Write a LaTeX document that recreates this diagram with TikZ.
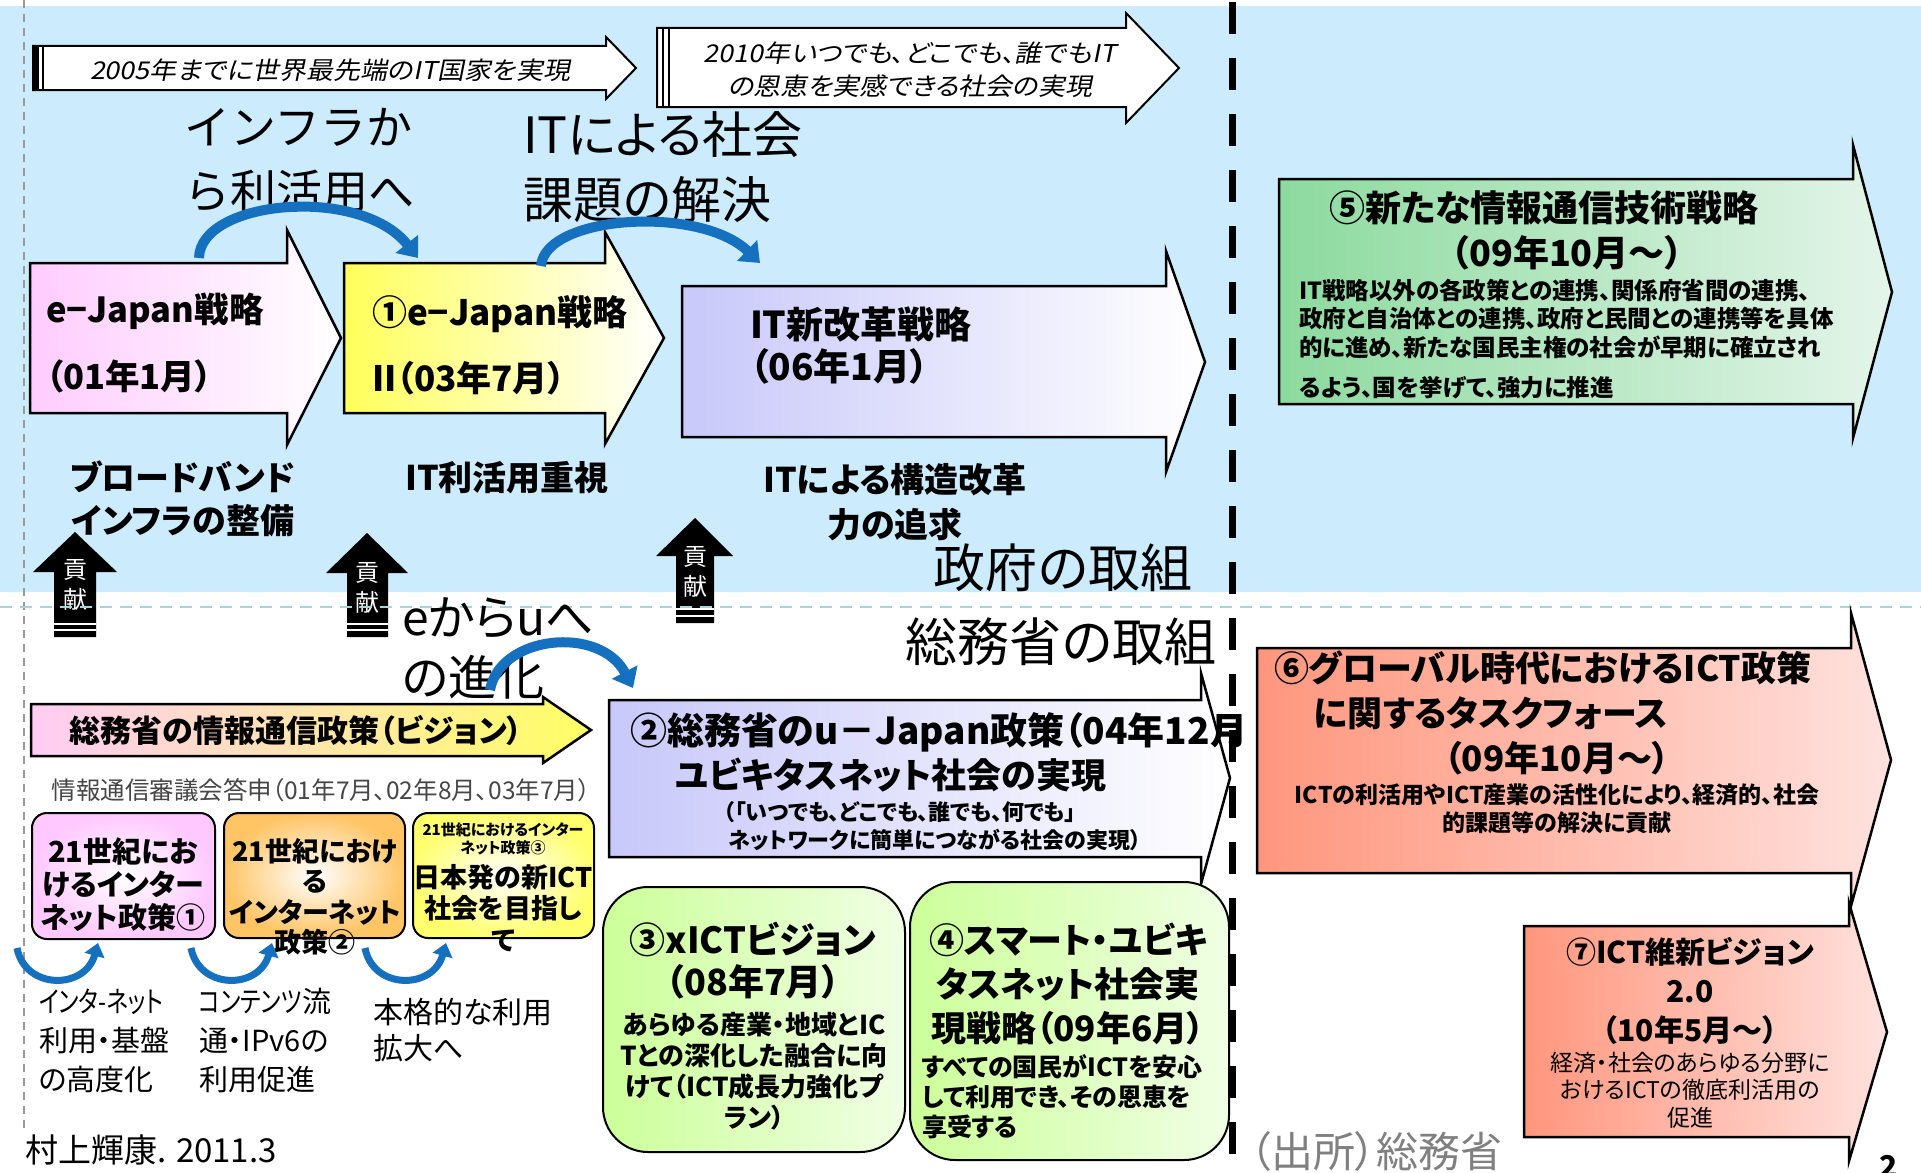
\documentclass[tikz,border=0pt]{standalone}
\usepackage{fontspec}
\setmainfont{Noto Sans CJK JP}[RawFeature=+palt]
\newfontfamily\jpit{Noto Sans CJK JP}[FakeSlant=0.2,FakeStretch=1.1,RawFeature=+palt]
\newfontfamily\jpfw{Noto Sans CJK JP}
\newfontfamily\jpcond{Noto Sans CJK JP}[FakeStretch=0.78,RawFeature=+palt]
\usetikzlibrary{arrows.meta}
\definecolor{bgblue}{RGB}{204,236,253}
\definecolor{dashteal}{RGB}{165,214,216}
\definecolor{arcblue}{RGB}{22,112,192}
\definecolor{pinkL}{RGB}{255,204,255}
\definecolor{yelL}{RGB}{255,255,90}
\definecolor{lavL}{RGB}{200,200,250}
\definecolor{grnL}{RGB}{140,218,158}
\definecolor{grnR}{RGB}{228,245,234}
\definecolor{salL}{RGB}{255,150,125}
\definecolor{salR}{RGB}{255,226,222}
\definecolor{limeL}{RGB}{204,255,153}
\definecolor{limeR}{RGB}{240,255,228}
\definecolor{orgO}{RGB}{255,196,100}
\definecolor{yelO}{RGB}{255,255,110}
\definecolor{pinkO}{RGB}{255,200,255}
\definecolor{visL}{RGB}{255,204,245}
\definecolor{visR}{RGB}{255,255,100}
\definecolor{grayT}{RGB}{128,128,128}
\definecolor{darkT}{RGB}{70,70,70}
\newcommand{\fsz}[2]{\fontsize{#1}{#2}\selectfont}
\tikzset{
  outl/.style={draw=black,line width=2.5pt,line join=miter},
  rbox/.style={draw=black,line width=2pt},
  blarc/.style={draw=arcblue,line width=10pt,-{Triangle[width=28pt,length=18pt]}},
  smarc/.style={draw=arcblue,line width=7pt,-{Triangle[width=20pt,length=13pt]}},
  kouken/.style={fill=black},
  kstripe/.style={draw=white,line width=1.5pt},
}
\begin{document}
\begin{tikzpicture}[x=1pt,y=-1pt,every node/.style={inner sep=0pt,outer sep=0pt}]
\useasboundingbox (0,0) rectangle (1921,1172);
\fill[white] (0,0) rectangle (1921,1172);
\fill[bgblue] (0,6) rectangle (1921,592);
\draw[grayT!80,line width=1.5pt,dash pattern=on 8pt off 6pt] (24,0) -- (24,1128);

% contribution arrows
\fill[kouken] (54,637) -- (54,572) -- (33,572) -- (75,532) -- (117,572) -- (96,572) -- (96,637) -- cycle;
\fill[kouken] (347,637) -- (347,573) -- (326,573) -- (367,533) -- (408,573) -- (388,573) -- (388,637) -- cycle;
\fill[kouken] (676,623) -- (676,556) -- (656,556) -- (695,518) -- (733,556) -- (714,556) -- (714,623) -- cycle;
\draw[kstripe] (54,624) -- (96,624); \draw[kstripe] (54,630) -- (96,630);
\draw[kstripe] (347,624) -- (388,624); \draw[kstripe] (347,630) -- (388,630);
\draw[kstripe] (676,609) -- (714,609); \draw[kstripe] (676,616) -- (714,616);
\node[font=\fsz{24}{30},text=white,align=center] (k1) at (75,585) {貢\\献};
\node[font=\fsz{24}{30},text=white,align=center] (k2) at (367.5,588) {貢\\献};
\node[font=\fsz{24}{30},text=white,align=center] (k3) at (695,572) {貢\\献};

\draw[dashteal,line width=2pt,dash pattern=on 12pt off 8pt] (0,607) -- (1921,607);

% top arrows
\draw[outl,fill=white,line width=2pt] (33,46) -- (606,46) -- (606,37) -- (636,68) -- (606,99) -- (606,90) -- (33,90) -- cycle;
\fill[black] (33,46) rectangle (39,90);
\draw[line width=2pt] (43,46) -- (43,90);
\draw[outl,fill=white,line width=2pt] (657,28) -- (1126,28) -- (1126,13) -- (1179,68) -- (1126,123) -- (1126,107) -- (657,107) -- cycle;
\draw[line width=2pt] (663,28) -- (663,107);
\draw[line width=2pt] (669,28) -- (669,107);
\node[font={\jpit\fsz{24.5}{33}}] (t2005) at (330,70) {2005年までに世界最先端のIT国家を実現};
\node[font={\jpit\fsz{24.5}{33}},align=center] (t2010) at (910,70) {2010年いつでも、どこでも、誰でもIT\\の恩恵を実感できる社会の実現};

% light big texts
\node[font={\jpfw\fsz{46}{64}},anchor=west,align=left] (infra) at (184,160) {インフラか\\ら利活用へ};
\node[font=\fsz{50}{65},anchor=west,align=left] (itsoc) at (523,167) {ITによる社会\\課題の解決};
\node[font=\fsz{48}{60},anchor=west,align=left] (eu) at (402,648) {eからuへ\\の進化};
\node[font=\fsz{52}{60}] (gov) at (1063,568) {政府の取組};
\node[font=\fsz{52}{60}] (mic) at (1061,642) {総務省の取組};

% government arrows
\path[outl,left color=pinkL,right color=white] (30,263) -- (287,263) -- (287,230) -- (341,338) -- (287,445) -- (287,413) -- (30,413) -- cycle;
\path[outl,left color=yelL,right color=white] (344,263) -- (605,263) -- (605,232) -- (664,338) -- (605,444) -- (605,413) -- (344,413) -- cycle;
\path[outl,left color=lavL,right color=white] (682,286) -- (1166,286) -- (1166,251) -- (1205,362) -- (1166,472) -- (1166,437) -- (682,437) -- cycle;
\path[outl,left color=grnL,right color=grnR] (1279,179) -- (1853,179) -- (1853,145) -- (1892,292) -- (1853,438) -- (1853,404) -- (1279,404) -- cycle;

\node[font=\bfseries\fsz{34.5}{67},anchor=west,align=left] (ej1) at (46,343) {e−Japan戦略\\（01年1月）};
\node[font=\bfseries\fsz{35}{66},anchor=west,align=left] (ej2) at (372,345) {①e−Japan戦略\\II（03年7月）};
\node[font=\bfseries\fsz{37}{42},anchor=west,align=left] (itn) at (750,346) {IT新改革戦略\\（06年1月）};
\node[font=\bfseries\fsz{34}{43},align=center] (lb1) at (183,499) {ブロードバンド\\インフラの整備};
\node[font=\bfseries\fsz{34}{43}] (lb2) at (507,478) {IT利活用重視};
\node[font=\bfseries\fsz{34}{45},align=center] (lb3) at (895,502) {ITによる構造改革\\力の追求};

\node[font=\bfseries\fsz{36}{40}] (s5a) at (1544,208) {⑤新たな情報通信技術戦略};
\node[font=\bfseries\fsz{36}{40}] (s5b) at (1567,253) {（09年10月～）};
\node[font=\bfseries\fsz{23.5}{28.5},anchor=west,align=left] (s5c) at (1299,318.5) {IT戦略以外の各政策との連携、関係府省間の連携、\\政府と自治体との連携、政府と民間との連携等を具体\\的に進め、新たな国民主権の社会が早期に確立され};
\node[font=\bfseries\fsz{23.5}{28.5},anchor=west] (s5d) at (1299,388) {るよう、国を挙げて、強力に推進};

% ministry arrows
\path[outl,left color=visL,right color=visR] (31,704) -- (543,704) -- (543,697) -- (591,730) -- (543,763) -- (543,756) -- (31,756) -- cycle;
\node[font=\bfseries\fsz{31}{35}] (vis) at (296,731) {総務省の情報通信政策（ビジョン）};
\node[font=\fsz{24.5}{30},text=darkT] (toshin) at (321,790) {情報通信審議会答申（01年7月、02年8月、03年7月）};

\path[outl,left color=lavL,right color=white] (609,700) -- (1201,700) -- (1201,673) -- (1230,778) -- (1201,884) -- (1201,857) -- (609,857) -- cycle;
\node[font=\bfseries\fsz{37}{40},anchor=west] (u2a) at (630,732) {②総務省のu－Japan政策（04年12月};
\node[font=\bfseries\fsz{35}{40}] (u2b) at (891,775) {ユビキタスネット社会の実現};
\node[font=\bfseries\fsz{22}{28}] (u2c) at (900,812) {（「いつでも、どこでも、誰でも、何でも」};
\node[font=\bfseries\fsz{22}{28}] (u2d) at (935,840) {ネットワークに簡単につながる社会の実現）};

\path[outl,left color=salL,right color=salR] (1524,926) -- (1849,926) -- (1849,903) -- (1887,1032) -- (1849,1161) -- (1849,1137) -- (1524,1137) -- cycle;
\path[outl,left color=salL,right color=salR] (1257,648) -- (1851,648) -- (1851,613) -- (1891,760) -- (1851,906) -- (1851,873) -- (1257,873) -- cycle;
\node[font=\bfseries\fsz{35}{40},anchor=west] (s6a) at (1274,668) {⑥グローバル時代におけるICT政策};
\node[font=\bfseries\fsz{35}{40},anchor=west] (s6b) at (1314,713) {に関するタスクフォース};
\node[font=\bfseries\fsz{35}{40}] (s6c) at (1557,758) {（09年10月～）};
\node[font=\bfseries\fsz{23}{28},align=center] (s6d) at (1557,809) {ICTの利活用やICT産業の活性化により、経済的、社会\\的課題等の解決に貢献};
\node[font=\bfseries\fsz{30}{39},align=center] (s7a) at (1690,991) {⑦ICT維新ビジョン\\2.0\\（10年5月～）};
\node[font=\fsz{23}{27.5},align=center] (s7b) at (1690,1090) {経済・社会のあらゆる分野に\\おけるICTの徹底利活用の\\促進};

% rounded boxes
\draw[rbox,rounded corners=15pt,inner color=white,outer color=pinkO] (32,813) rectangle (215,939);
\draw[rbox,rounded corners=15pt,inner color=white,outer color=orgO] (224,813) rectangle (405,938);
\draw[rbox,rounded corners=15pt,inner color=white,outer color=yelO] (413,813) rectangle (594,938);
\node[font=\bfseries\fsz{29}{33},align=center] (b1t) at (123,885) {21世紀にお\\けるインター\\ネット政策①};
\node[font=\bfseries\fsz{27}{30.5},align=center] (b2t) at (315,897) {21世紀におけ\\る\\インターネット\\政策②};
\node[font=\bfseries\fsz{15}{18},align=center] (b3s) at (503,839) {21世紀におけるインター\\ネット政策③};
\node[font=\bfseries\fsz{27}{31.5},align=center] (b3t) at (503,908) {日本発の新ICT\\社会を目指し\\て};

\draw[rbox,rounded corners=45pt,left color=limeL,right color=limeR] (603,887) rectangle (905,1152);
\draw[rbox,rounded corners=45pt,left color=limeL,right color=limeR] (910,882) rectangle (1229,1160);
\node[font=\bfseries\fsz{36}{42},align=center] (x3a) at (753,961) {③xICTビジョン\\（08年7月）};
\node[font=\bfseries\fsz{26}{31},align=center] (x3b) at (754,1071) {あらゆる産業・地域とIC\\Tとの深化した融合に向\\けて（ICT成長力強化プ\\ラン）};
\node[font=\bfseries\fsz{35}{44},align=center] (x4a) at (1068,984) {④スマート・ユビキ\\タスネット社会実\\現戦略（09年6月）};
\node[font=\bfseries\fsz{25}{30},anchor=west,align=left] (x4b) at (922,1097) {すべての国民がICTを安心\\して利用でき、その恩恵を\\享受する};

% labels under boxes
\node[font=\fsz{29}{39},anchor=west,align=left] (l1) at (39,1041) {{\jpcond インタ-ネット}\\利用・基盤\\の高度化};
\node[font=\fsz{29}{39},anchor=west,align=left] (l2) at (199,1041) {{\jpcond コンテンツ}流\\通・IPv6の\\利用促進};
\node[font=\fsz{30}{36},anchor=west,align=left] (l3) at (373,1030) {本格的な利用\\拡大へ};
\node[font=\fsz{33}{36},anchor=west] (auth) at (25,1150) {村上輝康. 2011.3};
\node[font=\fsz{42}{44},text=grayT,anchor=west] (src) at (1250,1152) {（出所）総務省};
\node[font=\bfseries\fsz{30}{30}] (pg) at (1889,1166) {2};

% curved blue arrows
\coordinate (a1s) at (199,258); \coordinate (a1e) at (418,258);
\coordinate (a2s) at (541,266); \coordinate (a2e) at (760,263);
\coordinate (a3s) at (490,690); \coordinate (a3e) at (633,688);
\draw[blarc] (a1s) .. controls (200,200) and (360,185) .. (a1e);
\draw[blarc] (a2s) .. controls (545,215) and (700,205) .. (a2e);
\draw[blarc] (a3s) .. controls (500,635) and (600,625) .. (a3e);
\coordinate (u1s) at (17,948); \coordinate (u1e) at (98,943);
\coordinate (u2s) at (191,948); \coordinate (u2e) at (272,943);
\coordinate (u3s) at (365,948); \coordinate (u3e) at (446,943);
\draw[smarc] (u1s) .. controls (25,990) and (85,990) .. (u1e);
\draw[smarc] (u2s) .. controls (199,990) and (259,990) .. (u2e);
\draw[smarc] (u3s) .. controls (373,990) and (433,990) .. (u3e);

% divider
\draw[black,line width=7pt,dash pattern=on 32pt off 24pt] (1232,2) -- (1232,1172);
\end{tikzpicture}
\end{document}
